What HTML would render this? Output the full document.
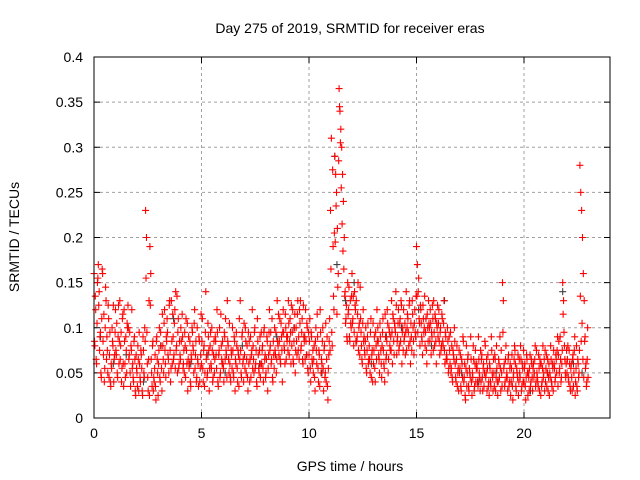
<!DOCTYPE html>
<html><head><meta charset="utf-8"><style>
body{margin:0;background:#fff}
svg{display:block;font-family:"Liberation Sans",sans-serif}
</style></head><body>
<svg id="chart" width="640" height="480" viewBox="0 0 640 480" xmlns="http://www.w3.org/2000/svg">
<rect width="640" height="480" fill="#fff"/>
<g id="grid"></g>
<g id="axes"></g>
<g id="black-series"></g>
<g id="red-series"></g>
<text x="350" y="33" font-size="14" text-anchor="middle">Day 275 of 2019, SRMTID for receiver eras</text>
<text x="350" y="471" font-size="14" text-anchor="middle">GPS time / hours</text>
<text transform="translate(19,237) rotate(-90)" font-size="14" text-anchor="middle">SRMTID / TECUs</text>
<rect x="94" y="57" width="516" height="361" fill="none" stroke="#000" stroke-width="1"/>
</svg>
<script>
const xTicks=[0,5,10,15,20];
const yTicks=[0,0.05,0.1,0.15,0.2,0.25,0.3,0.35,0.4];
const yTickLabels=["0","0.05","0.1","0.15","0.2","0.25","0.3","0.35","0.4"];
const binStarts=[0.0,0.2,0.4,0.6,0.8,1.0,1.2,1.4,1.6,1.8,2.0,2.2,2.4,2.6,2.8,3.0,3.2,3.4,3.6,3.8,4.0,4.2,4.4,4.6,4.8,5.0,5.2,5.4,5.6,5.8,6.0,6.2,6.4,6.6,6.8,7.0,7.2,7.4,7.6,7.8,8.0,8.2,8.4,8.6,8.8,9.0,9.2,9.4,9.6,9.8,10.0,10.2,10.4,10.6,10.8,11.0,11.2,11.4,11.6,11.8,12.0,12.2,12.4,12.6,12.8,13.0,13.2,13.4,13.6,13.8,14.0,14.2,14.4,14.6,14.8,15.0,15.2,15.4,15.6,15.8,16.0,16.2,16.4,16.6,16.8,17.0,17.2,17.4,17.6,17.8,18.0,18.2,18.4,18.6,18.8,19.0,19.2,19.4,19.6,19.8,20.0,20.2,20.4,20.6,20.8,21.0,21.2,21.4,21.6,21.8,22.0,22.2,22.4,22.6,22.8];
const redValues=[
[.16,.08,.12,.06,.15],[.17,.14,.09,.05,.11],[.16,.07,.04,.10,.13],[.09,.05,.11,.07,.04],[.06,.10,.08,.04,.07],
[.12,.07,.05,.09,.06],[.13,.08,.04,.11,.06],[.12,.06,.09,.05,.10],[.10,.07,.05,.08,.12],[.06,.04,.09,.03,.07],
[.05,.08,.03,.06,.04],[.07,.03,.09,.05,.10],[.23,.20,.06,.03,.13],[.19,.16,.05,.08,.03],[.04,.07,.02,.09,.05],
[.06,.10,.04,.08,.03],[.08,.05,.12,.06,.09],[.11,.07,.05,.13,.04],[.13,.06,.09,.07,.12],[.14,.08,.05,.11,.06],
[.07,.10,.04,.09,.06],[.05,.08,.11,.06,.03],[.09,.06,.04,.07,.10],[.08,.05,.12,.07,.04],[.10,.06,.09,.04,.07],
[.06,.11,.04,.08,.05],[.14,.07,.05,.09,.03],[.08,.06,.10,.04,.07],[.05,.09,.07,.12,.04],[.07,.10,.05,.08,.06],
[.06,.04,.09,.11,.07],[.13,.08,.05,.06,.04],[.07,.10,.05,.09,.03],[.06,.08,.04,.07,.11],[.13,.05,.09,.06,.04],
[.07,.10,.05,.08,.03],[.06,.04,.09,.07,.12],[.08,.05,.10,.06,.04],[.11,.07,.05,.09,.06],[.06,.08,.04,.10,.07],
[.05,.09,.03,.07,.12],[.08,.06,.11,.04,.07],[.10,.07,.05,.13,.08],[.07,.11,.06,.09,.04],[.12,.08,.06,.10,.09],
[.09,.13,.07,.11,.06],[.08,.12,.06,.10,.05],[.10,.07,.13,.09,.12],[.13,.08,.11,.06,.09],[.09,.12,.07,.10,.05],
[.07,.11,.04,.09,.06],[.05,.08,.03,.10,.06],[.09,.04,.07,.12,.05],[.06,.10,.03,.08,.05],[.04,.09,.02,.07,.11],
[.23,.31,.08,.19,.12],[.29,.27,.25,.21,.16],[.365,.34,.32,.30,.27],[.24,.20,.14,.11,.09],[.15,.12,.09,.13,.10],
[.16,.11,.08,.14,.12],[.13,.09,.15,.10,.07],[.11,.08,.06,.12,.09],[.07,.10,.05,.09,.06],[.08,.05,.11,.07,.04],
[.06,.09,.04,.08,.12],[.10,.07,.05,.09,.06],[.08,.11,.06,.04,.09],[.07,.12,.05,.10,.08],[.09,.13,.06,.11,.07],
[.10,.14,.07,.09,.12],[.08,.11,.13,.06,.10],[.12,.09,.07,.14,.10],[.11,.08,.13,.06,.09],[.13,.10,.07,.12,.09],
[.19,.17,.14,.11,.08],[.12,.09,.07,.11,.10],[.08,.11,.06,.10,.13],[.10,.12,.07,.09,.11],[.13,.08,.11,.06,.10],
[.09,.12,.07,.10,.08],[.11,.08,.13,.06,.09],[.07,.10,.05,.09,.06],[.05,.08,.04,.07,.10],[.06,.04,.08,.05,.03],
[.05,.07,.03,.06,.09],[.04,.06,.02,.08,.05],[.07,.03,.05,.09,.04],[.05,.08,.03,.06,.04],[.06,.04,.09,.05,.03],
[.04,.07,.03,.06,.05],[.08,.05,.03,.07,.04],[.06,.04,.09,.05,.03],[.05,.07,.03,.08,.04],[.04,.06,.09,.03,.05],
[.15,.13,.06,.04,.08],[.05,.03,.07,.04,.06],[.04,.07,.02,.05,.08],[.06,.03,.05,.07,.04],[.05,.08,.03,.06,.04],
[.04,.06,.02,.07,.05],[.05,.03,.07,.04,.06],[.03,.06,.05,.08,.04],[.05,.04,.07,.03,.06],[.06,.04,.08,.05,.03],
[.04,.07,.05,.03,.06],[.05,.08,.04,.06,.03],[.06,.04,.07,.05,.09],[.07,.05,.09,.04,.06],[.15,.13,.08,.05,.06],
[.05,.08,.04,.06,.03],[.06,.03,.07,.05,.09],[.04,.08,.03,.06,.05],[.28,.25,.23,.20,.16],[.13,.09,.06,.04,.10]];
const redValues2=[
[.085,.135,.065,.105,.155],[.125,.075,.095,.045,.165],[.085,.115,.055,.145,.065],[.075,.125,.045,.095,.035],[.055,.085,.125,.065,.095],
[.075,.105,.045,.125,.085],[.065,.095,.055,.115,.035],[.085,.045,.075,.105,.125],[.065,.095,.035,.075,.055],[.045,.085,.065,.025,.055],
[.035,.065,.095,.045,.075],[.055,.025,.075,.045,.085],[.155,.095,.045,.065,.025],[.125,.065,.035,.085,.045],[.055,.035,.085,.065,.025],
[.075,.045,.095,.055,.115],[.065,.105,.075,.045,.085],[.095,.065,.125,.075,.055],[.085,.115,.065,.105,.055],[.075,.135,.095,.055,.085],
[.065,.085,.115,.055,.075],[.095,.045,.075,.105,.065],[.055,.085,.035,.065,.095],[.075,.105,.055,.085,.045],[.065,.035,.085,.055,.115],
[.085,.055,.075,.035,.095],[.065,.045,.105,.075,.055],[.095,.055,.075,.045,.085],[.065,.085,.055,.095,.035],[.075,.045,.115,.065,.085],
[.055,.095,.065,.075,.045],[.085,.065,.105,.045,.075],[.055,.075,.045,.085,.065],[.095,.055,.075,.035,.065],[.075,.045,.095,.065,.105],
[.055,.085,.065,.045,.095],[.085,.065,.045,.075,.055],[.065,.095,.055,.075,.035],[.085,.055,.075,.045,.095],[.075,.055,.095,.065,.045],
[.065,.085,.055,.095,.075],[.095,.065,.045,.085,.055],[.075,.095,.065,.085,.115],[.085,.065,.105,.075,.095],[.095,.075,.115,.065,.085],
[.075,.105,.085,.095,.125],[.095,.065,.085,.115,.075],[.085,.115,.075,.065,.105],[.075,.095,.065,.125,.085],[.065,.085,.105,.055,.095],
[.085,.055,.095,.065,.075],[.065,.045,.085,.075,.115],[.055,.075,.035,.095,.065],[.085,.055,.075,.045,.105],[.065,.035,.055,.085,.075],
[.165,.095,.275,.135,.205],[.195,.235,.115,.145,.285],[.345,.305,.255,.215,.185],[.165,.135,.105,.125,.085],[.115,.145,.085,.105,.135],
[.105,.135,.095,.125,.085],[.085,.115,.075,.105,.145],[.095,.065,.105,.085,.075],[.085,.055,.075,.105,.065],[.065,.095,.045,.075,.105],
[.075,.055,.095,.065,.085],[.085,.065,.105,.075,.045],[.095,.075,.055,.115,.065],[.085,.105,.065,.095,.075],[.075,.095,.115,.085,.105],
[.095,.125,.085,.105,.075],[.105,.085,.125,.095,.075],[.085,.105,.095,.075,.115],[.095,.125,.085,.105,.075],[.115,.085,.105,.095,.135],
[.135,.095,.155,.105,.125],[.105,.085,.125,.095,.135],[.095,.075,.115,.085,.105],[.085,.105,.095,.125,.075],[.095,.115,.085,.105,.125],
[.105,.085,.095,.075,.115],[.085,.105,.075,.095,.065],[.065,.085,.055,.075,.095],[.055,.045,.075,.065,.085],[.045,.065,.035,.055,.075],
[.055,.035,.065,.045,.085],[.045,.025,.055,.035,.065],[.035,.055,.045,.065,.025],[.045,.065,.035,.075,.055],[.055,.035,.065,.045,.075],
[.065,.045,.055,.035,.085],[.045,.065,.055,.035,.025],[.055,.035,.075,.045,.065],[.035,.065,.045,.055,.025],[.065,.045,.055,.075,.035],
[.095,.055,.035,.065,.045],[.045,.065,.035,.055,.025],[.055,.035,.045,.065,.075],[.035,.055,.045,.025,.065],[.045,.065,.035,.055,.075],
[.055,.035,.045,.065,.025],[.045,.055,.035,.065,.045],[.055,.045,.065,.035,.075],[.045,.035,.055,.065,.025],[.035,.055,.045,.065,.075],
[.055,.035,.065,.045,.025],[.045,.065,.035,.055,.075],[.055,.045,.065,.075,.035],[.085,.055,.065,.045,.075],[.115,.095,.065,.045,.075],
[.065,.045,.075,.035,.055],[.045,.065,.035,.075,.025],[.055,.035,.065,.045,.075],[.135,.085,.105,.065,.045],[.085,.055,.035,.065,.045]];
const blackTimes=[0.3,0.9,1.5,2.3,3.1,3.7,4.5,5.3,6.1,6.9,7.7,8.5,9.3,9.9,10.6,11.2,11.3,11.7,12.1,12.9,13.6,14.3,15.1,15.7,16.3,17.1,17.9,18.7,19.4,20.3,21.1,21.8,22.3,22.7];
const blackValues=[0.09,0.06,0.07,0.04,0.08,0.11,0.06,0.07,0.05,0.08,0.06,0.09,0.10,0.07,0.05,0.29,0.17,0.13,0.15,0.06,0.09,0.10,0.12,0.08,0.13,0.05,0.04,0.05,0.04,0.03,0.05,0.14,0.06,0.05];

const X0=94,X1=610,Y0=418,Y1=57,XMAX=24,YMAX=0.4;
const xs=v=>X0+(v/XMAX)*(X1-X0);
const ys=v=>Y0-(v/YMAX)*(Y0-Y1);
const NS="http://www.w3.org/2000/svg";
function mk(tag,attrs,parent){const e=document.createElementNS(NS,tag);for(const k in attrs)e.setAttribute(k,attrs[k]);parent.appendChild(e);return e;}
const grid=document.getElementById('grid'),axes=document.getElementById('axes');
xTicks.forEach(t=>{const x=xs(t);
 if(t>0){const g=mk('line',{x1:x,x2:x,y1:Y0,y2:Y1,stroke:'#a0a0a0','stroke-dasharray':'3,3'},grid);
 
 }
 const a=mk('line',{x1:x,x2:x,y1:Y0,y2:Y0-6,stroke:'#000'},axes);
 
 
 const b=mk('line',{x1:x,x2:x,y1:Y1,y2:Y1+6,stroke:'#000'},axes);
 
 
 const l=mk('text',{x:x,y:Y0+20,'font-size':14,'text-anchor':'middle'},axes);l.textContent=String(t);
 
 
});
yTicks.forEach((t,i)=>{const y=ys(t);
 if(t>0&&t<YMAX){const g=mk('line',{x1:X0,x2:X1,y1:y,y2:y,stroke:'#a0a0a0','stroke-dasharray':'3,3'},grid);
 
 }
 const a=mk('line',{x1:X0,x2:X0+6,y1:y,y2:y,stroke:'#000'},axes);
 
 
 const b=mk('line',{x1:X1,x2:X1-6,y1:y,y2:y,stroke:'#000'},axes);
 
 
 const l=mk('text',{x:X0-11,y:y+5,'font-size':14,'text-anchor':'end'},axes);l.textContent=yTickLabels[i];
 
 
});
function plus(x,y,color,parent){return mk('path',{d:`M${x-3.5},${y}h7M${x},${y-3.5}v7`,stroke:color,'stroke-width':1.1,fill:'none'},parent);}
const bg=document.getElementById('black-series');
blackTimes.forEach((t,i)=>{const p=plus(xs(t),ys(blackValues[i]),'#404040',bg);
 
 
});
const rg=document.getElementById('red-series');
binStarts.forEach((t,b)=>{
 redValues[b].forEach((v,j)=>{
  const p=plus(xs(t+j*0.04),ys(v),'#ff0000',rg);
  
  
 });
 redValues2[b].forEach((v,j)=>{
  const p=plus(xs(t+0.02+j*0.04),ys(v),'#ff0000',rg);
  
  
 });
});
</script>
</body></html>
